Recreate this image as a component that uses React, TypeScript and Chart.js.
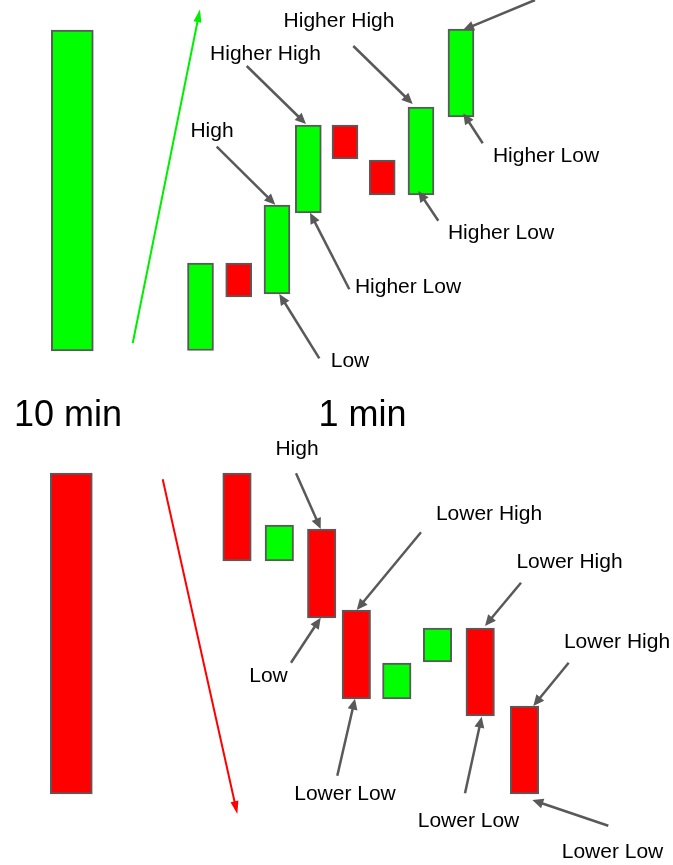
import React, { useEffect, useRef } from "react";
import { Chart, registerables } from "chart.js";

Chart.register(...registerables);

const WIDTH = 673;
const HEIGHT = 865;

// Time slots (x) and price levels (y)
// 10-minute candles: uptrend then downtrend
const tenMinSlot = [72.3, 71.3];
const tenMinOpen = [514, 392];
const tenMinClose = [835, 71];

// 1-minute candles, uptrend
const upSlot = [200.5, 238.7, 277, 308.3, 345, 382.2, 421, 461];
const upOpen = [514.5, 602, 571, 652, 740, 705, 670, 748];
const upClose = [602, 568, 660, 740, 706, 670, 758, 836];

// 1-minute candles, downtrend
const downSlot = [237, 279.3, 321.7, 356.3, 396.8, 437.5, 480.2, 524.5];
const downOpen = [392, 304, 336, 255, 166, 203, 237, 159];
const downClose = [304, 340, 247, 166, 202, 237, 149, 71];

// Annotation labels
const labelText = [
  "Higher High", "Higher High", "High", "Higher Low", "Higher Low", "Higher Low", "Low",
  "High", "Low", "Lower High", "Lower High", "Lower High", "Lower Low", "Lower Low", "Lower Low",
];
const labelX = [339, 265.5, 212, 546, 501, 408, 350, 297, 268.5, 489, 569.5, 617, 345, 468.5, 612.5];
const labelY = [846, 813, 735.5, 711, 633.5, 579.5, 506, 417.5, 190.5, 353, 305, 225, 73, 45.5, 14.5];

// Timeframe titles
const titleText = ["10 min", "1 min"];
const titleX = [68, 362.5];
const titleY = [452, 452];

// Grey pointer arrows (tail -> tip)
const arrowFromX = [535, 246.7, 353.3, 216.7, 482.7, 438.3, 349.3, 319.3, 296, 291, 421, 521, 568.7, 337.3, 465, 608.3];
const arrowFromY = [865, 799, 819, 718.3, 721.7, 644.3, 575.7, 506.7, 391.7, 202.3, 332.7, 282.3, 202.3, 89.3, 71.7, 39.3];
const arrowToX = [463, 306, 412.7, 275.3, 463.3, 418.3, 310, 279.3, 320.7, 320.7, 356.7, 485, 533.3, 355, 481.7, 532.3];
const arrowToY = [835, 741, 761, 660.3, 751.7, 674, 652.3, 571, 336, 247.3, 255, 239, 159, 166.3, 148.3, 65];

// Trend arrows (up, down)
const trendFromX = [132.7, 162.7];
const trendFromY = [521.7, 385.7];
const trendToX = [200, 237.3];
const trendToY = [855.7, 51];
const trendColor = ["#00ee00", "#ff0000"];

const GREEN = "#00ff00";
const RED = "#ff0000";
const BORDER = "#595959";
const ARROW = "#595959";
const FONT = '"Liberation Sans", Arial, Helvetica, sans-serif';

function candles(slot: number[], open: number[], close: number[]) {
  return slot.map((x, i) => ({ x, y: [Math.min(open[i], close[i]), Math.max(open[i], close[i])] }));
}
function candleColors(open: number[], close: number[]) {
  return open.map((o, i) => (close[i] > o ? GREEN : RED));
}

function drawArrow(
  ctx: CanvasRenderingContext2D,
  x1: number, y1: number, x2: number, y2: number,
  color: string, lw: number, headLen: number, headW: number
) {
  const dx = x2 - x1;
  const dy = y2 - y1;
  const len = Math.hypot(dx, dy);
  const ux = dx / len;
  const uy = dy / len;
  const bx = x2 - ux * headLen;
  const by = y2 - uy * headLen;
  ctx.save();
  ctx.strokeStyle = color;
  ctx.fillStyle = color;
  ctx.lineWidth = lw;
  ctx.lineCap = "butt";
  ctx.beginPath();
  ctx.moveTo(x1, y1);
  ctx.lineTo(bx + ux * 1, by + uy * 1);
  ctx.stroke();
  ctx.beginPath();
  ctx.moveTo(x2, y2);
  ctx.lineTo(bx - uy * headW / 2, by + ux * headW / 2);
  ctx.lineTo(bx + uy * headW / 2, by - ux * headW / 2);
  ctx.closePath();
  ctx.fill();
  ctx.restore();
}

const annotationPlugin = {
  id: "annotations",
  afterDatasetsDraw(chart: any) {
    const ctx: CanvasRenderingContext2D = chart.ctx;
    const xs = chart.scales.x;
    const ys = chart.scales.y;
    const px = (v: number) => xs.getPixelForValue(v);
    const py = (v: number) => ys.getPixelForValue(v);

    trendFromX.forEach((_, i) => {
      drawArrow(ctx, px(trendFromX[i]), py(trendFromY[i]), px(trendToX[i]), py(trendToY[i]), trendColor[i], 2, 13, 8);
    });

    arrowFromX.forEach((_, i) => {
      drawArrow(ctx, px(arrowFromX[i]), py(arrowFromY[i]), px(arrowToX[i]), py(arrowToY[i]), ARROW, 2.5, 11, 10);
    });

    ctx.save();
    ctx.fillStyle = "#000";
    ctx.textAlign = "center";
    ctx.textBaseline = "alphabetic";
    ctx.font = `21px ${FONT}`;
    labelText.forEach((t, i) => {
      ctx.fillText(t, px(labelX[i]), py(labelY[i]) + 21 * 0.358);
    });
    ctx.font = `36px ${FONT}`;
    titleText.forEach((t, i) => {
      ctx.fillText(t, px(titleX[i]), py(titleY[i]) + 36 * 0.358);
    });
    ctx.restore();
  },
};

export default function App() {
  const canvasRef = useRef<HTMLCanvasElement | null>(null);

  useEffect(() => {
    if (!canvasRef.current) return;
    const common = {
      grouped: false,
      borderSkipped: false as const,
      borderWidth: 2,
      borderColor: BORDER,
    };
    const chart = new Chart(canvasRef.current, {
      type: "bar",
      data: {
        datasets: [
          {
            ...common,
            label: "10 min",
            data: candles(tenMinSlot, tenMinOpen, tenMinClose) as any,
            backgroundColor: candleColors(tenMinOpen, tenMinClose),
            barThickness: 42,
          },
          {
            ...common,
            label: "1 min up",
            data: candles(upSlot, upOpen, upClose) as any,
            backgroundColor: candleColors(upOpen, upClose),
            barThickness: 26,
          },
          {
            ...common,
            label: "1 min down",
            data: candles(downSlot, downOpen, downClose) as any,
            backgroundColor: candleColors(downOpen, downClose),
            barThickness: 28.5,
          },
        ],
      },
      options: {
        responsive: false,
        animation: false,
        devicePixelRatio: 1,
        layout: { padding: 0 },
        plugins: { legend: { display: false }, tooltip: { enabled: false } },
        scales: {
          x: { type: "linear", min: 0, max: WIDTH, display: false, offset: false },
          y: { type: "linear", min: 0, max: HEIGHT, display: false },
        },
      },
      plugins: [annotationPlugin],
    });
    return () => chart.destroy();
  }, []);

  return (
    <div style={{ position: "absolute", left: 0, top: 0, width: WIDTH, height: HEIGHT, background: "#fff" }}>
      <canvas ref={canvasRef} width={WIDTH} height={HEIGHT} style={{ display: "block" }} />
    </div>
  );
}
